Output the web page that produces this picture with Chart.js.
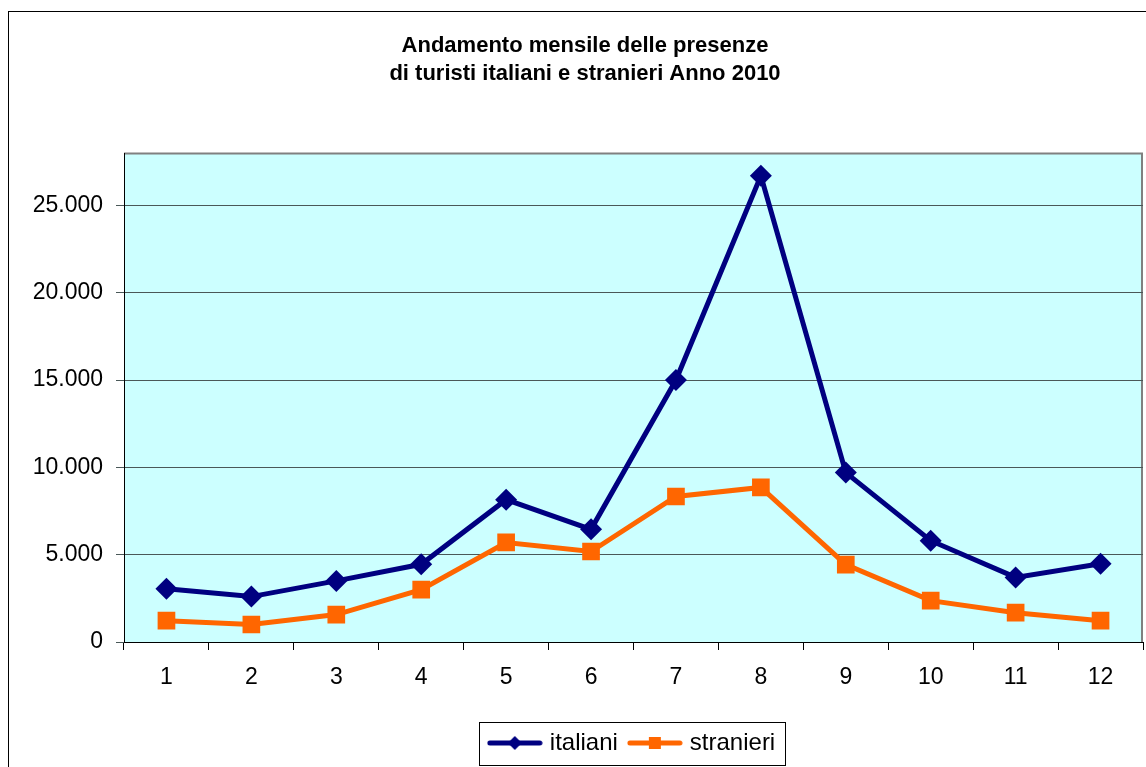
<!DOCTYPE html>
<html>
<head>
<meta charset="utf-8">
<script src="https://cdn.jsdelivr.net/npm/chart.js@4/dist/chart.umd.min.js"></script>
<style>
  html, body { margin: 0; padding: 0; background: #fff; }
  canvas { display: block; }
</style>
</head>
<body>
<canvas id="chart" width="1146" height="767"></canvas>
<script>
// data
const months = ['1', '2', '3', '4', '5', '6', '7', '8', '9', '10', '11', '12'];
const italiani = [3050, 2600, 3500, 4450, 8150, 6450, 15000, 26700, 9700, 5800, 3700, 4480];
const stranieri = [1220, 1000, 1570, 3000, 5700, 5180, 8330, 8850, 4430, 2370, 1680, 1220];
const yTicks = [0, 5000, 10000, 15000, 20000, 25000];
const yMax = 28000;
const titleLines = ['Andamento mensile delle presenze', 'di turisti italiani e stranieri Anno 2010'];

const NAVY = '#000080';
const ORANGE = '#FF6600';
const FONT = 'Arial, "Liberation Sans", sans-serif';

// legend sample: short line with the marker in the middle
function legendSample(color, shape) {
  const c = document.createElement('canvas');
  c.width = 56; c.height = 16;
  const g = c.getContext('2d');
  g.strokeStyle = color;
  g.lineWidth = 5;
  g.lineCap = 'round';
  g.beginPath(); g.moveTo(3, 8); g.lineTo(53, 8); g.stroke();
  g.fillStyle = color;
  g.beginPath();
  if (shape === 'diamond') {
    g.moveTo(28, 1); g.lineTo(35, 8); g.lineTo(28, 15); g.lineTo(21, 8);
  } else {
    g.rect(22, 2, 12, 12);
  }
  g.closePath(); g.fill();
  return c;
}

function fmt(v) {
  return String(v).replace(/\B(?=(\d{3})+(?!\d))/g, '.');
}

// plot area fill, outer frame, title and legend box
const decor = {
  id: 'decor',
  beforeDraw(chart) {
    const { ctx, chartArea: a } = chart;
    ctx.save();
    ctx.fillStyle = '#fff';
    ctx.fillRect(0, 0, chart.width, chart.height);
    ctx.strokeStyle = '#000';
    ctx.lineWidth = 1;
    ctx.strokeRect(8.5, 11.5, 1400, 1000);
    ctx.fillStyle = '#CCFFFF';
    ctx.fillRect(a.left, a.top, a.right - a.left, a.bottom - a.top);
    ctx.strokeStyle = '#808080';
    ctx.lineWidth = 2;
    ctx.beginPath();
    ctx.moveTo(a.left, a.top + 0.5);
    ctx.lineTo(a.right - 1, a.top + 0.5);
    ctx.lineTo(a.right - 1, a.bottom);
    ctx.stroke();
    // title
    ctx.fillStyle = '#000';
    ctx.font = 'bold 22px ' + FONT;
    ctx.textAlign = 'center';
    ctx.textBaseline = 'middle';
    titleLines.forEach((t, i) => ctx.fillText(t, 585, 46 + i * 28));
    ctx.restore();
  },
  afterDraw(chart) {
    const boxes = chart.legend.legendHitBoxes;
    if (!boxes || !boxes.length) return;
    const left = Math.min(...boxes.map(b => b.left));
    const right = Math.max(...boxes.map(b => b.left + b.width));
    const top = Math.min(...boxes.map(b => b.top));
    const bottom = Math.max(...boxes.map(b => b.top + b.height));
    const ctx = chart.ctx;
    ctx.save();
    ctx.strokeStyle = '#000';
    ctx.lineWidth = 1;
    ctx.strokeRect(Math.round(left - 13) + 0.5, Math.round(top - 9) + 0.5,
      Math.round(right - left + 23), Math.round(bottom - top + 19));
    ctx.restore();
  }
};

const ctx = document.getElementById('chart').getContext('2d');
new Chart(ctx, {
  type: 'line',
  data: {
    labels: months,
    datasets: [
      {
        label: 'italiani',
        data: italiani,
        borderColor: NAVY,
        backgroundColor: NAVY,
        borderWidth: 5,
        pointStyle: 'rectRot',
        pointRadius: 11,
        pointBorderWidth: 0,
        tension: 0
      },
      {
        label: 'stranieri',
        data: stranieri,
        borderColor: ORANGE,
        backgroundColor: ORANGE,
        borderWidth: 5,
        pointStyle: 'rect',
        pointRadius: 12.5,
        pointBorderWidth: 0,
        tension: 0
      }
    ]
  },
  options: {
    responsive: false,
    animation: false,
    devicePixelRatio: 1,
    layout: { autoPadding: false, padding: { left: 0, right: 3, top: 153, bottom: 2 } },
    plugins: {
      title: { display: false },
      legend: {
        position: 'bottom',
        fullSize: false,
        labels: {
          color: '#000',
          font: { family: FONT, size: 24 },
          usePointStyle: true,
          pointStyleWidth: 46,
          padding: 14,
          generateLabels(chart) {
            return chart.data.datasets.map((ds, i) => ({
              text: ds.label,
              datasetIndex: i,
              fontColor: '#000',
              lineWidth: 0,
              pointStyle: legendSample(ds.borderColor, i === 0 ? 'diamond' : 'square')
            }));
          }
        }
      },
      tooltip: { enabled: false }
    },
    scales: {
      x: {
        offset: true,
        afterFit(scale) {
          scale.height = 75;
          scale.paddingLeft = 0;
          scale.paddingRight = 0;
        },
        border: { display: true, color: '#000', width: 1 },
        grid: {
          offset: true,
          drawOnChartArea: false,
          drawTicks: true,
          tickLength: 8,
          color: '#000'
        },
        ticks: {
          color: '#000',
          font: { family: FONT, size: 23 },
          padding: 14,
          maxRotation: 0
        }
      },
      y: {
        min: 0,
        max: yMax,
        afterFit(scale) { scale.width = 124; },
        afterBuildTicks(scale) { scale.ticks = yTicks.map(v => ({ value: v })); },
        border: { display: true, color: '#000', width: 1 },
        grid: {
          drawTicks: true,
          tickLength: 8,
          color: '#4a5858',
          lineWidth: 1
        },
        ticks: {
          color: '#000',
          font: { family: FONT, size: 23 },
          padding: 13,
          callback(v) { return fmt(v); }
        }
      }
    }
  },
  plugins: [decor]
});
</script>
</body>
</html>
